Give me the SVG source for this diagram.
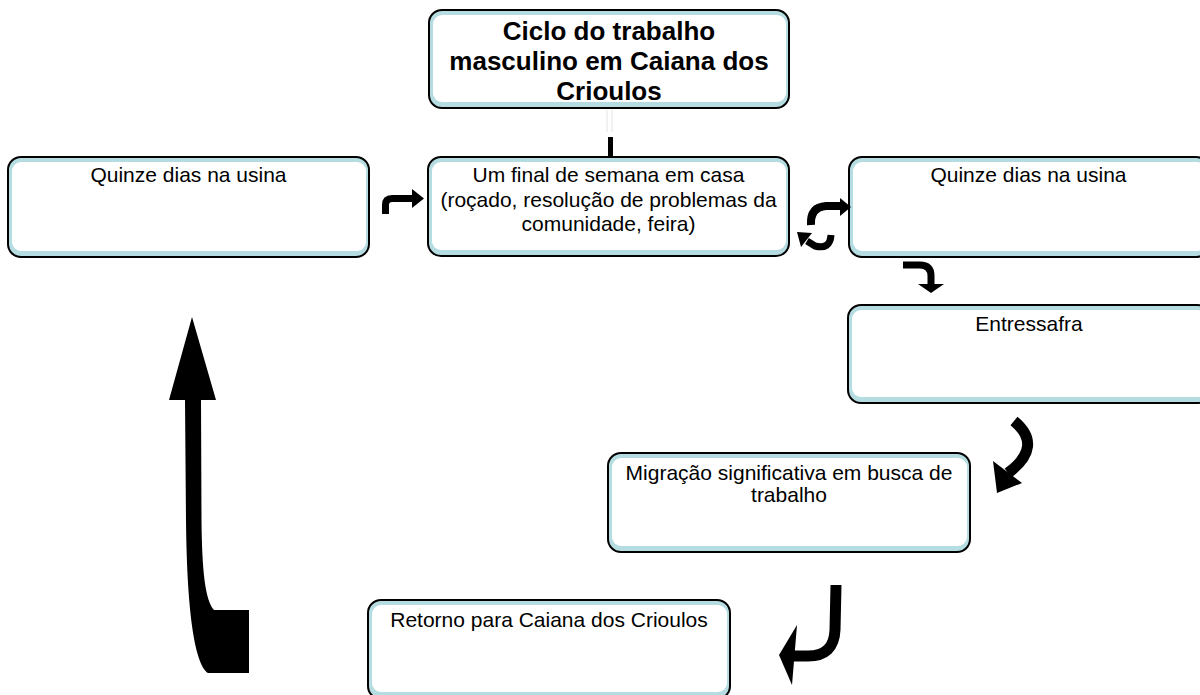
<svg xmlns="http://www.w3.org/2000/svg" width="1200" height="695" viewBox="0 0 1200 695">
<defs>
<style>
.box{fill:#B5DDE1;stroke:#000;stroke-width:2}
.inner{fill:#fff}
.t{font-family:"Liberation Sans",Arial,sans-serif;font-size:21px;fill:#000;text-anchor:middle}
.tb{font-family:"Liberation Sans",Arial,sans-serif;font-size:26px;font-weight:bold;fill:#000;text-anchor:middle}
.ar{fill:none;stroke:#000;stroke-linejoin:round}
.hd{fill:#000}
</style>
</defs>
<rect width="1200" height="695" fill="#fff"/>

<g id="title">
<rect class="box" x="429" y="10" width="360" height="98" rx="13"/>
<rect class="inner" x="433" y="15" width="353" height="87" rx="9"/>
<text class="tb" x="609" y="40">Ciclo do trabalho</text>
<text class="tb" x="609" y="70">masculino em Caiana dos</text>
<text class="tb" x="609" y="100">Crioulos</text>
</g>

<g id="fim-de-semana">
<rect class="box" x="428" y="157" width="361" height="99" rx="13"/>
<rect class="inner" x="432" y="162" width="354" height="88" rx="9"/>
<text class="t" x="608.5" y="182">Um final de semana em casa</text>
<text class="t" x="608.5" y="207">(roçado, resolução de problemas da</text>
<text class="t" x="608.5" y="231">comunidade, feira)</text>
</g>

<g id="usina-esquerda">
<rect class="box" x="8" y="157" width="361" height="100" rx="13"/>
<rect class="inner" x="12" y="162" width="354" height="89" rx="9"/>
<text class="t" x="188.5" y="182">Quinze dias na usina</text>
</g>

<g id="usina-direita">
<rect class="box" x="849" y="157" width="360" height="100" rx="13"/>
<rect class="inner" x="853" y="162" width="353" height="89" rx="9"/>
<text class="t" x="1028.5" y="182">Quinze dias na usina</text>
</g>

<g id="entressafra">
<rect class="box" x="848" y="305" width="362" height="98" rx="13"/>
<rect class="inner" x="852" y="310" width="355" height="87" rx="9"/>
<text class="t" x="1029" y="331">Entressafra</text>
</g>

<g id="migracao">
<rect class="box" x="608" y="453" width="362" height="99" rx="13"/>
<rect class="inner" x="612" y="458" width="355" height="88" rx="9"/>
<text class="t" x="789" y="480">Migração significativa em busca de</text>
<text class="t" x="789" y="502">trabalho</text>
</g>

<g id="retorno">
<rect class="box" x="368" y="600" width="362" height="99" rx="13"/>
<rect class="inner" x="372" y="605" width="355" height="87" rx="9"/>
<text class="t" x="549" y="627">Retorno para Caiana dos Crioulos</text>
</g>

<g id="connectors">
<line x1="607" y1="110" x2="607" y2="132" stroke="#e4e4e4" stroke-width="1"/>
<line x1="612" y1="110" x2="612" y2="132" stroke="#e4e4e4" stroke-width="1"/>
<rect x="608" y="137" width="5" height="20" fill="#000"/>

<path class="ar" stroke-width="7" d="M385.5 214 L385.5 205 Q385.5 198.5 392 198.5 L413 198.5"/>
<polygon class="hd" points="412,189 424,198.5 412,208"/>

<path class="ar" stroke-width="8" d="M811 225 Q810 207 826 206 L841 206"/>
<polygon class="hd" points="840,198 851,207 840,216"/>

<path class="ar" stroke-width="7" d="M831 235 Q830 250 815 246 L807 241"/>
<polygon class="hd" points="812,233 797,232 801,247"/>

<path class="ar" stroke-width="7" d="M903 265 L920 265 Q931 265 931 276 L931 285"/>
<polygon class="hd" points="918,284 944,284 931,293"/>

<path class="ar" stroke-width="11" d="M1014 421 Q1044 446 1008 473"/>
<polygon class="hd" points="993,461 997,493 1022,483"/>

<path class="ar" stroke-width="11" d="M836 585 L835 630 Q834 656 808 656 L794 656"/>
<polygon class="hd" points="797,625 779,655 792,685"/>

<path class="hd" d="M192 317 L216 400 L201 400 L201.5 520 C202 570 205 600 214 610 L249 610 L249 673 L208 673 C196 665 187 620 186 520 L185 400 L169 400 Z"/>
</g>
</svg>
